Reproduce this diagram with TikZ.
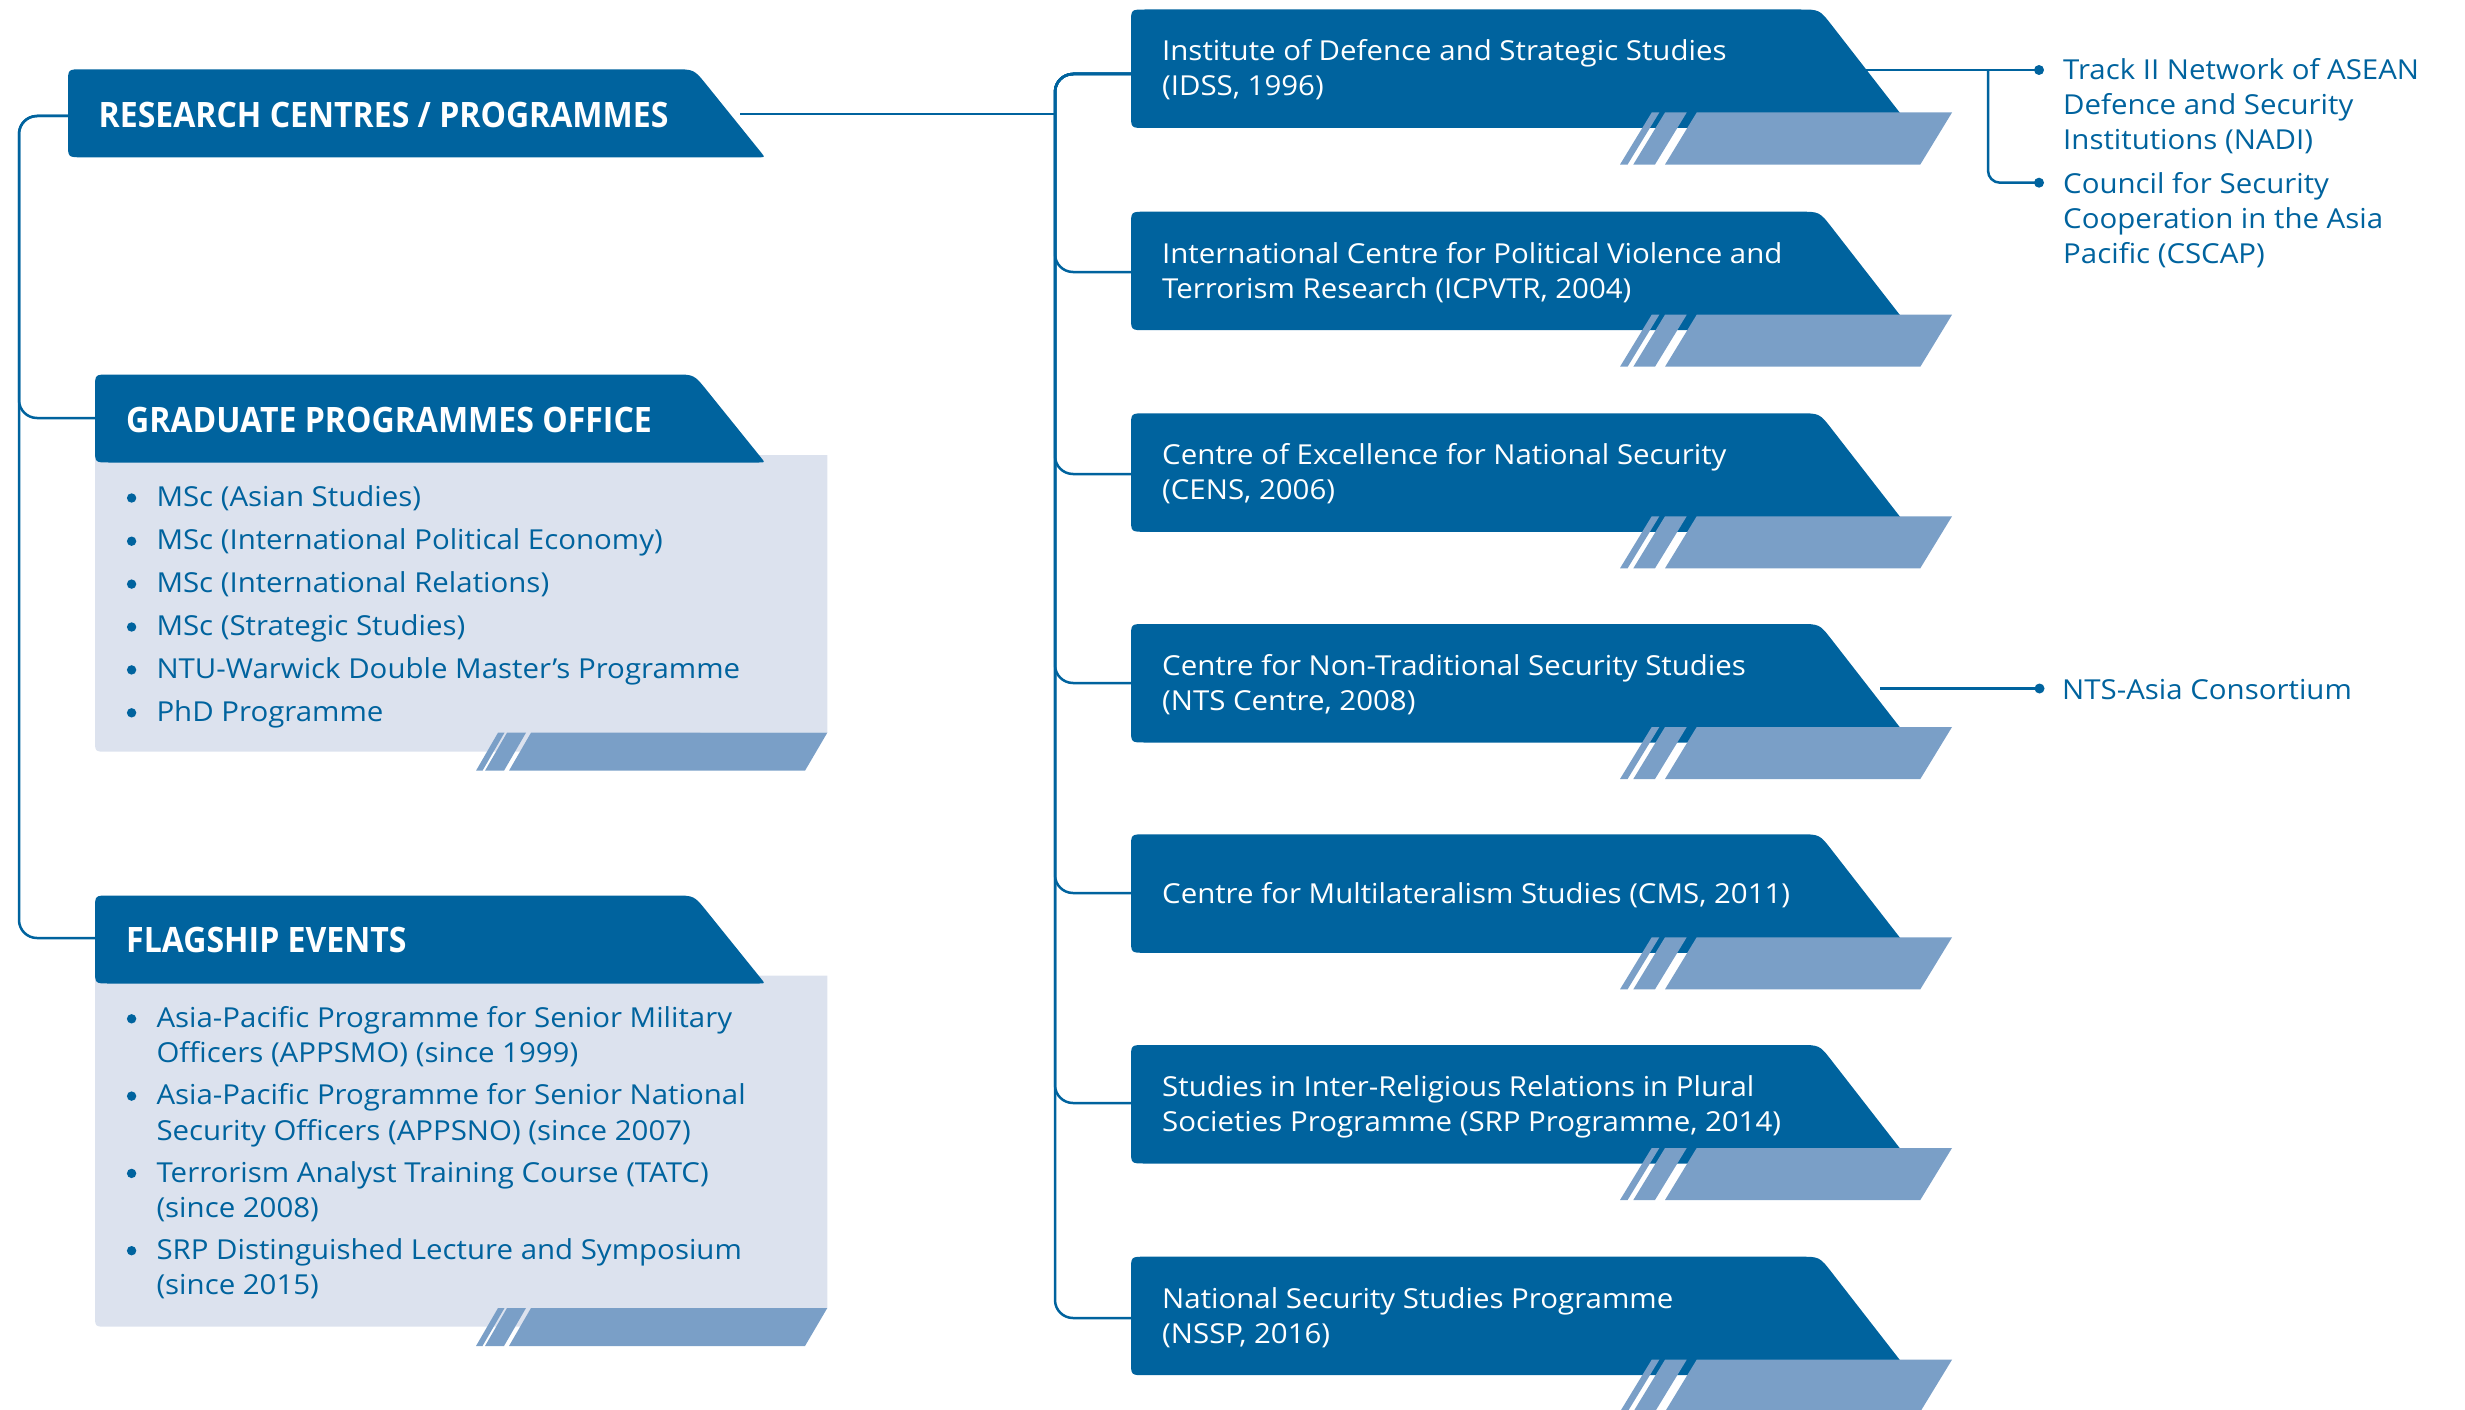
\documentclass[tikz,border=0pt]{standalone}
\usepackage{fontspec}
\setmainfont{Open Sans}[FakeStretch=1.07]
\newfontfamily\hdrfont{Open Sans}[FakeStretch=0.915]
\usetikzlibrary{calc}
\definecolor{dkblue}{HTML}{00639E}
\definecolor{ltblue}{HTML}{7A9FC7}
\definecolor{panelc}{HTML}{DCE2EE}
\newcommand\LHead[2]{% left x, top y
  \fill[dkblue] ({#1},{#2+14}) .. controls ({#1},{#2}) .. ({#1+14},{#2})
   -- (674,{#2}) .. controls (694,{#2}) .. (706.6,{#2+15.6})
   -- (761.2,{#2+83.3}) .. controls (765,{#2+88}) .. (759,{#2+88})
   -- ({#1+14},{#2+88}) .. controls ({#1},{#2+88}) .. ({#1},{#2+74}) -- cycle;}
\newcommand\RBox[1]{% top y
  \fill[dkblue] (1131,{#1+14}) .. controls (1131,{#1}) .. (1145,{#1})
   -- (1799.5,{#1}) .. controls (1819.5,{#1}) .. (1831.8,{#1+15.8})
   -- (1911.7,{#1+118.5}) -- (1145,{#1+118.5}) .. controls (1131,{#1+118.5}) .. (1131,{#1+104.5}) -- cycle;
  \fill[ltblue] (1696.7,{#1+103}) -- (1952,{#1+103}) -- (1920.3,{#1+155}) -- (1665,{#1+155}) -- cycle;
  \fill[ltblue] (1665,{#1+103}) -- (1686.7,{#1+103}) -- (1655,{#1+155}) -- (1633.3,{#1+155}) -- cycle;
  \fill[ltblue] (1651.7,{#1+103}) -- (1659.3,{#1+103}) -- (1627.6,{#1+155}) -- (1620,{#1+155}) -- cycle;}
\newcommand\LPanel[3]{% top, stripe top, bottom
  \fill[panelc] (95,{#1}) -- (827.3,{#1}) -- (827.3,{#2}) -- (700,{#2}) -- (700,{#3}) -- (107,{#3}) .. controls (95,{#3}) .. (95,{#3-12}) -- cycle;
  \fill[ltblue] (531,{#2}) -- (827.3,{#2}) -- (805,{#2+38}) -- (509,{#2+38}) -- cycle;
  \fill[ltblue] (507,{#2}) -- (526,{#2}) -- (504,{#2+38}) -- (485,{#2+38}) -- cycle;
  \fill[ltblue] (498,{#2}) -- (504.5,{#2}) -- (482.5,{#2+38}) -- (476,{#2+38}) -- cycle;}
\newcommand\myind{\hspace*{30.3pt}}
\begin{document}
\begin{tikzpicture}[x=1pt,y=-1pt,
  line/.style={draw=dkblue,line width=2.5pt},
  conn/.style={line,rounded corners=18pt},
  boxtxt/.style={anchor=base west,inner sep=0pt,text=white,font=\fontsize{27.5pt}{35pt}\selectfont},
  bluetxt/.style={anchor=base west,inner sep=0pt,text=dkblue,font=\fontsize{27.5pt}{35pt}\selectfont},
  hdr/.style={anchor=base west,inner sep=0pt,text=white,font=\hdrfont\fontsize{35pt}{40pt}\selectfont\bfseries},
  dot/.style={circle,fill=dkblue,inner sep=0pt,minimum size=10pt},
  bul/.style={circle,fill=dkblue,inner sep=0pt,minimum size=9.4pt}]
\useasboundingbox (0,0) rectangle (2465,1410);
% coordinates
\coordinate (tL) at (19,0);
\coordinate (tR) at (1055,0);
\coordinate (rhL) at (68,116);
\coordinate (gL) at (95,418);
\coordinate (fL) at (95,938);
\coordinate (rhR) at (740,114);
\coordinate (c1) at (1131,74);
\coordinate (c2) at (1131,272);
\coordinate (c3) at (1131,474);
\coordinate (c4) at (1131,683);
\coordinate (c5) at (1131,893);
\coordinate (c6) at (1131,1103);
\coordinate (c7) at (1131,1318);
\coordinate (b1R) at (1850,70);
\coordinate (br) at (1988,70);
\coordinate (b4R) at (1880,688.5);
\node[dot] (d1) at (2039,70) {};
\node[dot] (d2) at (2039,182.7) {};
\node[dot] (d3) at (2039.5,688.5) {};
% connectors
\draw[conn] (rhL) -- (tL |- rhL) -- (tL |- fL) -- (fL);
\draw[conn] (rhL) -- (tL |- rhL) -- (tL |- gL) -- (gL);
\draw[line] (rhR) -- (tR |- rhR);
\foreach \k in {2,...,7} \draw[conn] (c1) -- (tR |- c1) -- (tR |- c\k) -- (c\k);
\draw[line] (b1R) -- (d1.center);
\draw[conn,rounded corners=12pt] (br) -- (br |- d2) -- (d2.center);
\draw[line] (b4R) -- (d3.center);
% left side
\LPanel{455}{732.7}{751.7}
\LPanel{975.7}{1308}{1326.7}
\LHead{68}{69.3}
\LHead{95}{374.5}
\LHead{95}{895.5}
% right boxes
\RBox{9.5}
\RBox{211.7}
\RBox{413.3}
\RBox{624}
\RBox{834.3}
\RBox{1045}
\RBox{1256.7}
% header texts
\node[hdr] (h1) at (98.5,127.5) {RESEARCH CENTRES / PROGRAMMES};
\node[hdr] (h2) at (126,432.7) {GRADUATE PROGRAMMES OFFICE};
\node[hdr] (h3) at (126,952.7) {FLAGSHIP EVENTS};
% list bullets
\foreach \y [count=\i] in {498,541.2,584.1,627,669.9,712.8}
  \node[bul] (gb\i) at (131.6,\y) {};
\foreach \y [count=\i] in {1018.8,1096.1,1173.4,1250.7}
  \node[bul] (fb\i) at (131.6,\y) {};
% lists
\node[bluetxt] (gl) at (126,506.7) {\parbox[t]{700pt}{%
\myind MSc (Asian Studies)\\[7.9pt]
\myind MSc (International Political Economy)\\[7.9pt]
\myind MSc (International Relations)\\[7.9pt]
\myind MSc (Strategic Studies)\\[7.9pt]
\myind NTU-Warwick Double Master’s Programme\\[7.9pt]
\myind PhD Programme}};
\node[bluetxt,font=\fontsize{27.5pt}{35.3pt}\selectfont] (fl) at (126,1027.5) {\parbox[t]{700pt}{%
\myind Asia-Pacific Programme for Senior Military\\
\myind Officers (APPSMO) (since 1999)\\[6.7pt]
\myind Asia-Pacific Programme for Senior National\\
\myind Security Officers (APPSNO) (since 2007)\\[6.7pt]
\myind Terrorism Analyst Training Course (TATC)\\
\myind (since 2008)\\[6.7pt]
\myind SRP Distinguished Lecture and Symposium\\
\myind (since 2015)}};
% box texts
\node[boxtxt] (t1) at (1162,61) {\parbox[t]{800pt}{Institute of Defence and Strategic Studies\\(IDSS, 1996)}};
\node[boxtxt] (t2) at (1162,263.2) {\parbox[t]{800pt}{International Centre for Political Violence and\\Terrorism Research (ICPVTR, 2004)}};
\node[boxtxt] (t3) at (1162,464.8) {\parbox[t]{800pt}{Centre of Excellence for National Security\\(CENS, 2006)}};
\node[boxtxt] (t4) at (1162,675.5) {\parbox[t]{800pt}{Centre for Non-Traditional Security Studies\\(NTS Centre, 2008)}};
\node[boxtxt] (t5) at (1162,903.8) {Centre for Multilateralism Studies (CMS, 2011)};
\node[boxtxt] (t6) at (1162,1096.5) {\parbox[t]{800pt}{Studies in Inter-Religious Relations in Plural\\Societies Programme (SRP Programme, 2014)}};
\node[boxtxt] (t7) at (1162,1308.2) {\parbox[t]{800pt}{National Security Studies Programme\\(NSSP, 2016)}};
% right texts
\node[bluetxt] (n1) at (2063,80) {\parbox[t]{400pt}{Track II Network of ASEAN\\Defence and Security\\Institutions (NADI)}};
\node[bluetxt] (n2) at (2063,193.5) {\parbox[t]{400pt}{Council for Security\\Cooperation in the Asia\\Pacific (CSCAP)}};
\node[bluetxt] (n3) at (2062,699.5) {NTS-Asia Consortium};
\end{tikzpicture}
\end{document}
